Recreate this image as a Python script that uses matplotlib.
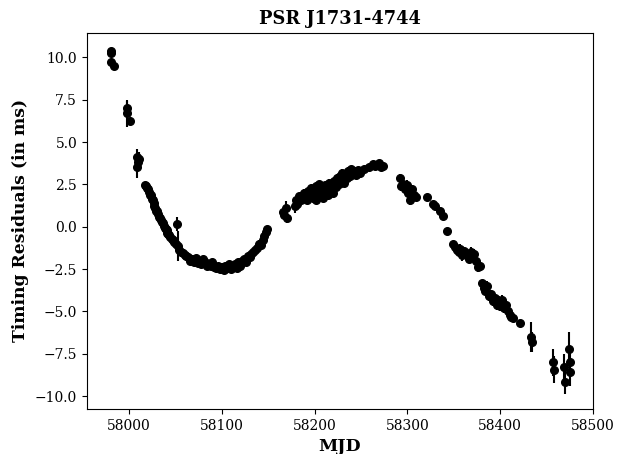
import matplotlib
matplotlib.use("Agg")
import matplotlib.pyplot as plt

# timing residuals of PSR J1731-4744
mjd = [
    57980.6, 57980.9, 57981.2, 57983.8,
    57997.4, 57997.9, 58001.3,
    58008.7, 58009.1, 58009.6, 58010.6,
    58017.5, 58018.5, 58019.5, 58020.5, 58021.5, 58022.5, 58023.5, 58024.5,
    58025.5, 58026.5, 58027.5, 58028.5, 58029.5, 58030.5, 58031.5, 58032.5,
    58033.5, 58034.5, 58035.5, 58036.5, 58037.5, 58038.5, 58039.5, 58040.5,
    58041.5, 58042.5, 58043.5, 58044.5, 58046.0, 58047.5, 58049.0, 58050.5,
    58052.0, 58052.5, 58054.0, 58056.0, 58058.0, 58060.0, 58062.0, 58064.0,
    58066.0, 58068.0, 58070.0, 58072.0, 58074.0, 58076.0, 58078.0, 58080.0,
    58082.0, 58084.0, 58086.0, 58088.0, 58090.0, 58092.0, 58094.0, 58096.0,
    58098.0, 58100.0, 58102.0, 58104.0, 58106.0, 58108.0, 58110.0, 58112.0,
    58114.0, 58116.0, 58118.0, 58120.0, 58122.0, 58124.0, 58126.0, 58128.0,
    58130.0, 58132.0, 58134.0, 58136.0, 58138.0, 58140.0, 58142.0, 58144.0,
    58146.0, 58148.0, 58149.0,
    58166.0, 58167.0, 58169.0, 58170.0, 58179.0, 58180.0, 58181.0, 58183.0,
    58185.0, 58187.0, 58189.0, 58190.0, 58192.0, 58193.0, 58195.0, 58196.0,
    58198.0, 58199.0, 58201.0, 58202.0, 58203.0, 58205.0, 58206.0, 58208.0,
    58209.0, 58211.0, 58212.0, 58214.0, 58215.0, 58217.0, 58218.0, 58220.0,
    58221.0, 58223.0, 58224.0, 58226.0, 58227.0, 58229.0, 58230.0, 58232.0,
    58233.0, 58235.0, 58236.0, 58238.0, 58239.0, 58241.0, 58243.0, 58245.0,
    58247.0, 58249.0, 58253.0, 58259.0, 58263.0, 58265.0, 58269.0, 58272.0,
    58274.0,
    58292.0, 58293.0, 58295.0, 58297.0, 58299.0, 58301.0, 58303.0, 58305.0,
    58307.0, 58309.0,
    58321.0, 58327.0, 58330.0, 58335.0, 58338.0, 58343.0,
    58349.0, 58351.0, 58353.0, 58355.0, 58357.0, 58359.0, 58361.0, 58364.0,
    58366.0, 58368.0, 58370.0, 58372.0, 58374.0, 58376.0, 58378.0,
    58380.0, 58382.0, 58384.0, 58386.0, 58388.0, 58390.0, 58392.0, 58394.0,
    58396.0, 58398.0, 58400.0, 58402.0, 58404.0, 58406.0, 58408.0, 58410.0,
    58412.0, 58414.0, 58421.0,
    58433.5, 58434.0,
    58457.0, 58457.5, 58469.0, 58469.5, 58474.5, 58475.0, 58475.5,
]

resid = [
    10.35, 10.25, 9.75, 9.5,
    7.0, 6.7, 6.25,
    4.1, 3.5, 3.8, 4.0,
    2.45, 2.4, 2.3, 2.2, 2.05, 1.9, 1.85, 1.65,
    1.55, 1.4, 1.25, 1.1, 0.95, 0.9, 0.75, 0.6,
    0.5, 0.4, 0.3, 0.2, 0.05, -0.05, -0.15, -0.2,
    -0.35, -0.45, -0.5, -0.6, -0.7, -0.8, -0.9, -1.0,
    0.15, -1.15, -1.35, -1.5, -1.55, -1.7, -1.75, -1.8,
    -2.0, -1.9, -2.1, -1.85, -2.15, -2.0, -2.2, -1.9,
    -2.1, -2.3, -2.25, -2.35, -2.1, -2.4, -2.45, -2.3,
    -2.5, -2.4, -2.55, -2.3, -2.45, -2.2, -2.5, -2.35,
    -2.2, -2.45, -2.1, -2.3, -2.05, -1.9, -2.1, -1.75,
    -1.8, -1.6, -1.5, -1.4, -1.25, -1.0, -1.1, -0.8,
    -0.55, -0.3, -0.15,
    0.85, 0.7, 1.1, 0.5, 1.2, 1.55, 1.35, 1.8,
    1.6, 1.9, 2.0, 1.7, 1.55, 2.1, 1.8, 2.3,
    1.7, 2.0, 2.4, 1.6, 2.2, 2.5, 1.9, 2.3,
    1.7, 2.45, 2.1, 1.9, 2.6, 2.2, 2.5, 2.0,
    2.7, 2.35, 2.9, 2.5, 3.0, 2.7, 3.2, 2.6,
    3.1, 2.85, 3.3, 3.0, 3.4, 3.1, 3.3, 3.05,
    3.35, 3.2, 3.4, 3.55, 3.7, 3.6, 3.75, 3.55,
    3.6,
    2.9, 2.4, 2.55, 2.2, 2.45, 2.0, 1.6, 2.2,
    1.9, 1.75,
    1.75, 1.35, 1.25, 0.9, 0.65, -0.25,
    -1.05, -1.2, -1.35, -1.5, -1.3, -1.7, -1.45, -1.6,
    -1.9, -1.5, -1.75, -1.6, -2.0, -2.4, -2.35,
    -3.35, -3.6, -3.8, -3.5, -4.1, -4.0, -4.4,
    -4.2, -4.6, -4.35, -4.7, -4.3, -4.8, -4.65, -5.0,
    -5.2, -5.35, -5.4, -5.7,
    -6.5, -6.8,
    -8.0, -8.45, -8.3, -9.2, -7.2, -8.0, -8.6,
]

err = [
    0.15, 0.1, 0.1, 0.1,
    0.4, 0.8, 0.2,
    0.5, 0.6, 0.3, 0.4,
    0.1, 0.1, 0.1, 0.1, 0.15, 0.1, 0.1, 0.15,
    0.1, 0.15, 0.1, 0.1, 0.15, 0.1, 0.1, 0.15,
    0.1, 0.1, 0.15, 0.1, 0.1, 0.15, 0.1, 0.1,
    0.15, 0.1, 0.1, 0.15, 0.1, 0.1, 0.15, 0.1,
    0.4, 0.9, 0.15, 0.1, 0.1, 0.15, 0.1, 0.1,
    0.15, 0.1, 0.15, 0.1, 0.15, 0.1, 0.1, 0.15,
    0.1, 0.15, 0.1, 0.1, 0.15, 0.1, 0.15, 0.1,
    0.15, 0.1, 0.15, 0.1, 0.1, 0.15, 0.1, 0.15,
    0.1, 0.15, 0.1, 0.15, 0.2, 0.15, 0.1, 0.2,
    0.15, 0.2, 0.15, 0.1, 0.15, 0.2, 0.15, 0.1,
    0.15, 0.1, 0.1,
    0.15, 0.2, 0.4, 0.3, 0.4, 0.15, 0.2, 0.15,
    0.2, 0.15, 0.2, 0.15, 0.2, 0.15, 0.2, 0.15,
    0.2, 0.15, 0.2, 0.15, 0.2, 0.15, 0.2, 0.15,
    0.2, 0.15, 0.2, 0.15, 0.2, 0.15, 0.2, 0.15,
    0.2, 0.15, 0.2, 0.15, 0.2, 0.15, 0.2, 0.15,
    0.2, 0.15, 0.2, 0.15, 0.2, 0.15, 0.15, 0.15,
    0.15, 0.15, 0.1, 0.1, 0.1, 0.1, 0.1, 0.1,
    0.1,
    0.2, 0.3, 0.3, 0.25, 0.3, 0.25, 0.3, 0.2,
    0.2, 0.15,
    0.1, 0.1, 0.1, 0.1, 0.1, 0.1,
    0.15, 0.2, 0.25, 0.2, 0.25, 0.3, 0.25, 0.3,
    0.2, 0.3, 0.25, 0.3, 0.2, 0.25, 0.15,
    0.2, 0.3, 0.25, 0.3, 0.3, 0.25, 0.3,
    0.25, 0.3, 0.25, 0.3, 0.25, 0.3, 0.25, 0.2,
    0.2, 0.15, 0.2, 0.1,
    0.9, 0.6,
    0.8, 0.8, 0.8, 0.7, 1.0, 0.9, 0.8,
]

plt.rcParams['font.family'] = 'DejaVu Serif'

fig = plt.figure(figsize=(6.25, 4.54), dpi=100)
ax = fig.add_axes([0.139, 0.099, 0.81, 0.829])

ax.errorbar(mjd, resid, yerr=err, fmt='o', color='black', ecolor='black',
            markersize=5.5, elinewidth=1.5, capsize=0)

ax.set_xlim(57954.7, 58500)
ax.set_ylim(-10.77, 11.46)
ax.set_xticks([58000, 58100, 58200, 58300, 58400, 58500])
ax.set_yticks([-10.0, -7.5, -5.0, -2.5, 0.0, 2.5, 5.0, 7.5, 10.0])

ax.set_title("PSR J1731-4744", fontweight='bold', fontsize=12.8)
ax.set_xlabel("MJD", fontweight='bold', fontsize=12.5)
ax.set_ylabel("Timing Residuals (in ms)", fontweight='bold', fontsize=12.3)

fig.savefig("out.png", dpi=100)
